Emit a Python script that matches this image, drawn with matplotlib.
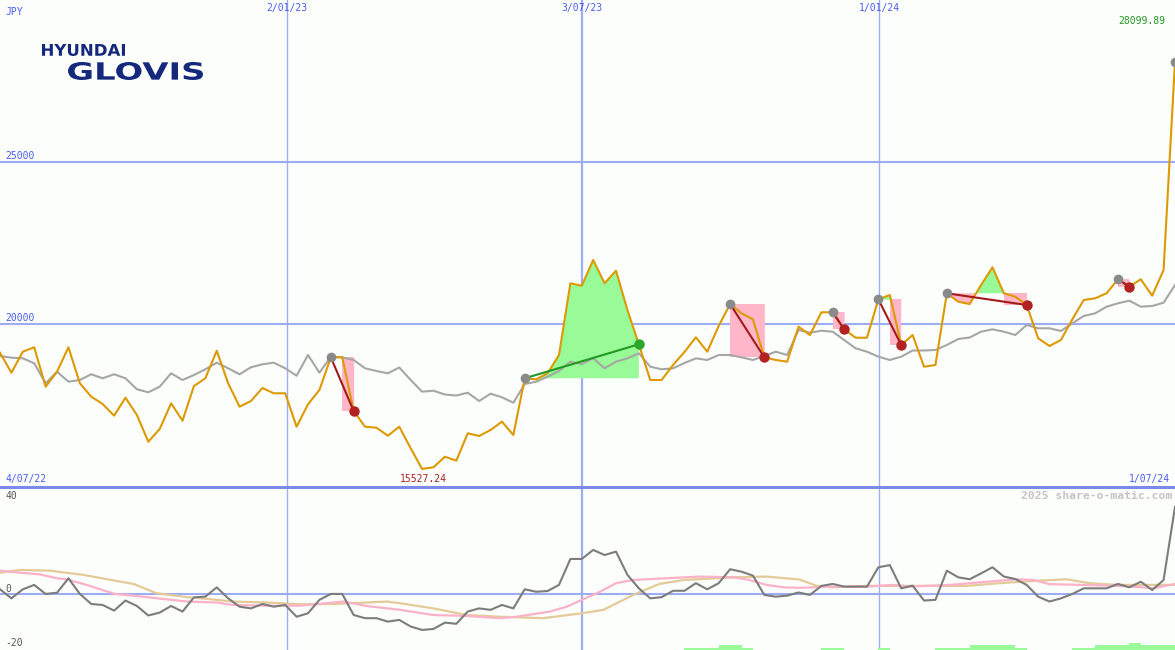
import numpy as np
import matplotlib
matplotlib.use('Agg')
import matplotlib.pyplot as plt
from matplotlib.lines import Line2D
from matplotlib.textpath import TextPath
from matplotlib.patches import PathPatch
from matplotlib.font_manager import FontProperties
from matplotlib.transforms import Affine2D, IdentityTransform

# weekly closes, 4/07/22 .. 1/07/24 (JPY)
price = [19114, 18497, 19145, 19281, 18065, 18528, 19281, 18170, 17756, 17531,
         17170, 17725, 17191, 16367, 16759, 17552, 17015, 18086, 18324, 19176,
         18170, 17448, 17623, 18025, 17861, 17861, 16830, 17522, 17963, 18972,
         18972, 17315, 16830, 16799, 16552, 16830, 16164, 15527.24, 15577, 15904,
         15781, 16627, 16543, 16728, 16985, 16574, 18324, 18293, 18478, 19043,
         21256, 21182, 21975, 21256, 21645, 20432, 19373, 18272, 18272, 18735,
         19136, 19590, 19145, 19938, 20617, 20330, 20145, 18972, 18889, 18836,
         19917, 19660, 20361, 20361, 19836, 19577, 19577, 20762, 20895, 19352,
         19660, 18682, 18735, 20948, 20688, 20617, 21204, 21750, 20948, 20843,
         20586, 19559, 19321, 19506, 20145, 20741, 20793, 20948, 21380, 21151,
         21380, 20873, 21667, 28099.89]

# market comparison line (grey)
market = [19012, 18960, 18941, 18787, 18170, 18528, 18219, 18272, 18448, 18324,
          18448, 18324, 17985, 17892, 18065, 18478, 18272, 18426, 18602, 18806,
          18633, 18448, 18664, 18756, 18806, 18633, 18404, 19043, 18497, 18991,
          18972, 18889, 18633, 18549, 18478, 18657, 18272, 17911, 17941, 17824,
          17793, 17880, 17623, 17849, 17738, 17571, 18148, 18219, 18373, 18549,
          18836, 18765, 18941, 18633, 18836, 18941, 19096, 18682, 18602, 18633,
          18796, 18941, 18889, 19043, 19043, 18972, 18889, 19012, 19145, 19043,
          19815, 19731, 19793, 19762, 19506, 19250, 19145, 18991, 18889, 18991,
          19182, 19182, 19198, 19352, 19537, 19583, 19762, 19836, 19762, 19660,
          19969, 19867, 19867, 19784, 20022, 20247, 20330, 20534, 20639, 20719,
          20534, 20556, 20657, 21204]

# momentum (lower panel)
mom = [1.9, -1.8, 1.9, 3.7, 0, 0.5, 6.4, 0, -4.1, -4.5,
       -6.8, -2.7, -4.9, -8.8, -7.6, -4.9, -7.2, -1.4, -1.1, 2.7,
       -1.8, -5.2, -5.9, -4.1, -5.2, -4.5, -9.3, -7.9, -2.4, 0,
       0, -8.6, -9.9, -9.9, -11.3, -10.6, -13.3, -14.7, -14.3, -11.7,
       -12.2, -7.2, -5.9, -6.5, -4.5, -5.9, 1.9, 0.9, 1.2, 3.7,
       14.3, 14.3, 18.0, 15.9, 17.3, 7.8, 2.3, -1.8, -1.3, 1.3,
       1.3, 4.4, 1.9, 4.4, 10.1, 9.1, 7.5, -0.4, -1.1, -0.7,
       0.6, -0.4, 3.3, 4.1, 3.0, 3.0, 3.0, 10.9, 11.8, 2.3,
       3.4, -2.7, -2.4, 9.5, 6.8, 6.0, 8.4, 10.9, 7.1, 6.1,
       3.7, -1.1, -3.1, -1.8, 0, 2.3, 2.3, 2.3, 4.1, 2.7,
       5.0, 1.6, 5.7, 35.6]

# smoothed momentum lines, read at their bends
pink_x = [0, 1.75, 3.5, 5, 5.8, 7.3, 8.8, 10.1, 11.7, 14.6, 16.4, 19, 20.4, 23.4,
          26.3, 29.2, 30.1, 32.1, 35.1, 38, 40.9, 43.8, 45.3, 48.2, 49.7, 51, 52.6,
          54, 55.5, 58.4, 61.3, 64.3, 65.7, 67.2, 68.7, 70.1, 73, 76, 78.3, 79.8,
          83.3, 86.5, 89.1, 90.6, 92, 94.9, 97.9, 99.3, 101.1, 103]
pink_y = [9.5, 8.7, 8.0, 6.4, 6.0, 4.1, 1.9, 0, -0.7, -2.2, -3.1, -3.5, -4.5, -4.8,
          -4.8, -3.5, -3.1, -4.9, -6.5, -8.6, -9.0, -9.9, -9.3, -7.2, -5.2, -2.4, 0.9,
          4.4, 5.7, 6.4, 7.1, 6.8, 5.7, 3.7, 2.7, 2.5, 3.0, 3.0, 3.7, 3.0,
          3.7, 5.0, 6.0, 5.7, 4.0, 3.7, 3.3, 3.0, 2.3, 4.1]
tan_x = [0, 1.75, 4.4, 7.3, 9.4, 11.7, 13.7, 16.4, 19, 20.4, 23.4, 26.3, 29.2, 32.1,
         33.9, 35.1, 38, 40.9, 43.8, 47.6, 51, 52.9, 55.5, 57.8, 59.9, 64.3, 67.2,
         70.1, 71.6, 73, 76, 78.9, 81.8, 84.7, 87.6, 90.6, 93.5, 95.5, 97.9, 100.8, 103]
tan_y = [8.7, 9.8, 9.5, 7.8, 6.0, 4.1, 0.3, -1.3, -2.4, -3.1, -3.5, -4.2, -4.1, -3.5,
         -3.1, -3.8, -5.9, -8.6, -9.3, -9.9, -7.9, -6.5, -0.4, 4.1, 5.7, 6.8, 7.1,
         5.9, 3.3, 2.7, 3.3, 3.3, 3.3, 3.3, 4.4, 5.3, 6.0, 4.4, 3.7, 3.7, 3.7]

# green signal bars at the foot of the lower panel
vol_idx = [60, 61, 62, 63, 64, 65, 72, 73, 77, 82, 83, 84, 85, 86, 87, 88, 89,
           94, 95, 96, 97, 98, 99, 100, 101, 102]
vol_lvl = [1, 1, 1, 2, 2, 1, 1, 1, 1, 1, 1, 1, 2, 2, 2, 2, 1,
           1, 1, 2, 2, 2, 3, 2, 2, 2]

# trades: entry / exit week index
trade_in = [29, 46, 64, 73, 77, 83, 98]
trade_out = [31, 56, 67, 74, 79, 90, 99]
open_in = 103

date_labels = ['2/01/23', '3/07/23', '1/01/24']
date_pos = [25.15, 51.0, 77.05]
start_label, end_label = '4/07/22', '1/07/24'
price_grid = [25000, 20000]
mom_labels = [40, 0, -20]

W, H = 1175, 650
bg = '#fcfefc'
blue = '#4b5cf0'
grid_c = '#9eadf3'
orange = '#dd9900'
pink_fill = '#ffb6c8'
green_fill = '#98fb98'
mono = 'DejaVu Sans Mono'

x = np.arange(len(price))
price = np.array(price, dtype=float)

fig = plt.figure(figsize=(W / 100, H / 100), dpi=100, facecolor=bg)
split = 163 / H
ax = fig.add_axes([0, split, 1, 1 - split])
ax2 = fig.add_axes([0, 0, 1, split])
for a in (ax, ax2):
    a.set_xlim(0, len(price) - 1)
    a.axis('off')
ax.set_ylim(14969, 30000)
ax2.set_ylim(-22.9, 43.7)

# grid
for p in price_grid:
    ax.axhline(p, color=grid_c, lw=1.5, zorder=1)
for i, xp in enumerate(date_pos):
    lw = 1.6 if i == 1 else 1.0
    ax.axvline(xp, color=grid_c, lw=lw, zorder=1)
    ax2.axvline(xp, color=grid_c, lw=lw, zorder=1)
ax2.axhline(0, color=grid_c, lw=1.5, zorder=1)
fig.add_artist(Line2D([0, 1], [split, split], color='#7a89ea', lw=2.2))

# trade shading
for s, e in zip(trade_in, trade_out):
    lvl = price[s]
    xs = x[s:e + 1]
    ys = price[s:e + 1]
    if price[e] < lvl:
        # loss box from the last time the price held the entry level
        k = max(i for i in range(s, e + 1) if price[i] >= lvl)
        ax.fill_between([k, e], lvl, price[e], color=pink_fill, lw=0, zorder=2)
    ax.fill_between(xs, ys, lvl, where=ys >= lvl, interpolate=True,
                    color=green_fill, lw=0, zorder=2)
    ax.fill_between(xs, ys, lvl, where=ys <= lvl, interpolate=True,
                    color=pink_fill, lw=0, zorder=2)

ax.plot(x, market, color='#a6a6a6', lw=1.5, zorder=3)
ax.plot(x, price, color=orange, lw=1.5, zorder=4)

for s, e in zip(trade_in, trade_out):
    win = price[e] > price[s]
    lc = '#229922' if win else '#a31a1a'
    ax.plot([s, e], [price[s], price[e]], color=lc, lw=1.5, zorder=5)
    ax.plot(s, price[s], 'o', color='#8a8a8a', ms=7, mew=0, zorder=6)
    ax.plot(e, price[e], 'o', color='#2aa82a' if win else '#b22222', ms=7.5, mew=0, zorder=6)
ax.plot(open_in, price[open_in], 'o', color='#8a8a8a', ms=7, mew=0, zorder=6, clip_on=False)

# lower panel
ax2.bar(vol_idx, vol_lvl, width=1, align='edge', color=green_fill, lw=0, zorder=1,
        bottom=-22.9)
ax2.plot(tan_x, tan_y, color='#e3ca98', lw=1.6, zorder=2)
ax2.plot(pink_x, pink_y, color='#fbb2c8', lw=1.6, zorder=2)
ax2.plot(x, mom, color='#7c7c7c', lw=1.5, zorder=3, clip_on=False)


def ftext(px, py, s, **kw):
    fig.text(px / W, 1 - py / H, s, family=mono, va='center', **kw)


ftext(5, 12, 'JPY', color=blue, fontsize=7)
for lab, xp in zip(date_labels, date_pos):
    ftext(xp / (len(price) - 1) * W, 8, lab, color=blue, fontsize=7, ha='center')
ftext(1165, 21, '%.2f' % price.max(), color='#229922', fontsize=7, ha='right')
for p in price_grid:
    py = ax.transData.transform((0, p))[1]
    fig.text(5 / W, (py + 6) / H, str(p), family=mono, va='center', color=blue, fontsize=7)
ftext(5, 479, start_label, color=blue, fontsize=7)
ftext(1170, 479, end_label, color=blue, fontsize=7, ha='right')
imin = int(np.argmin(price))
ftext(imin / (len(price) - 1) * W + 1, 479, '%.2f' % price.min(), color='#aa2222',
      fontsize=7, ha='center')
ftext(1172, 496, '2025 share-o-matic.com', color='#c4c4c4', fontsize=8.2,
      ha='right', fontweight='bold')
for m in mom_labels:
    py = ax2.transData.transform((0, m))[1]
    off = 5 if m == 0 else 0
    fig.text(5 / W, (py + off) / H, str(m), family=mono, va='center',
             color='#555555', fontsize=7)


# logo
def logo_word(word, x0, x1, ytop, ybot, color):
    tp = TextPath((0, 0), word, size=100,
                  prop=FontProperties(family='DejaVu Sans', weight='bold'))
    ext = tp.get_extents()
    tr = (Affine2D().translate(-ext.x0, -ext.y0)
          .scale((x1 - x0) / ext.width, (ybot - ytop) / ext.height)
          .translate(x0, H - ybot))
    fig.add_artist(PathPatch(tr.transform_path(tp), color=color, lw=0,
                             transform=IdentityTransform()))


logo_word('HYUNDAI', 42, 125, 44, 56, '#14297b')
logo_word('GLOVIS', 68, 203, 62, 80, '#14297b')

fig.savefig('out.png', dpi=100, facecolor=bg)
